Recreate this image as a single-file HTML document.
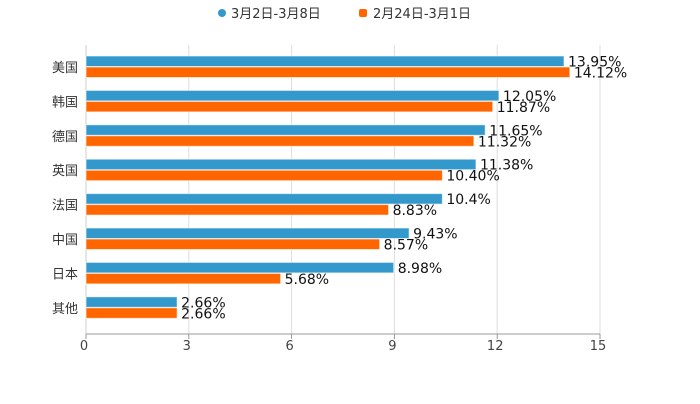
<!DOCTYPE html>
<html><head><meta charset="utf-8"><style>
body{margin:0;background:#fff;font-family:"DejaVu Sans","Noto Sans CJK SC",sans-serif}
</style></head><body>
<svg id="c" width="700" height="400" xmlns="http://www.w3.org/2000/svg" font-family="DejaVu Sans, Noto Sans CJK SC, sans-serif"></svg>
<script>
const categories=["美国","韩国","德国","英国","法国","中国","日本","其他"];
const seriesA=[13.95,12.05,11.65,11.38,10.4,9.43,8.98,2.66];
const seriesB=[14.12,11.87,11.32,10.40,8.83,8.57,5.68,2.66];
const labelsA=["13.95%","12.05%","11.65%","11.38%","10.4%","9.43%","8.98%","2.66%"];
const labelsB=["14.12%","11.87%","11.32%","10.40%","8.83%","8.57%","5.68%","2.66%"];
const ticks=[0,3,6,9,12,15];
const seriesNames=["3月2日-3月8日","2月24日-3月1日"];
const colors=["#3399cc","#ff6600"];
const svg=document.getElementById('c');
const NS='http://www.w3.org/2000/svg';
const x0=86,x1=600,yTop=45,yBottom=334;
const xs=v=>x0+(v/15)*(x1-x0);
const firstBar=56,rowH=34.4;
function el(t,a,txt){const e=document.createElementNS(NS,t);for(const k in a)e.setAttribute(k,a[k]);if(txt!==undefined)e.textContent=txt;svg.appendChild(e);return e;}
ticks.forEach(t=>{
 const g=el('line',{x1:xs(t),x2:xs(t),y1:yTop,y2:yBottom,stroke:'#ddd','stroke-width':1});
 
 
 const tk=el('line',{x1:xs(t),x2:xs(t),y1:yBottom,y2:yBottom+5,stroke:'#999'});
 
 
 const l=el('text',{x:xs(t)-2,y:yBottom+16,'font-size':13,fill:'#444','text-anchor':'middle'},String(t));
 
 
});
const ax=el('line',{x1:x0,x2:x1,y1:yBottom,y2:yBottom,stroke:'#999'});


const ay=el('line',{x1:x0,x2:x0,y1:yTop,y2:yBottom,stroke:'#ccc'});


categories.forEach((c,i)=>{
 const by=firstBar+rowH*i;
 const t=el('text',{x:78,y:by+16,'font-size':13,fill:'#333','text-anchor':'end'},c);
 
 
 [[seriesA,labelsA,0],[seriesB,labelsB,11]].forEach((s,j)=>{
  const y=by+s[2];
  const r=el('rect',{x:x0,y:y,width:xs(s[0][i])-x0,height:10.5,fill:colors[j],stroke:'#fff','stroke-opacity':0.6,'stroke-width':1});
  
  
  const lt=el('text',{x:xs(s[0][i])+4,y:y+10.5,'font-size':14,fill:'#111'},s[1][i]);
  
  
 });
});
[[222,231],[363,373]].forEach((p,j)=>{
 const m=j?el('rect',{x:p[0]-4,y:9,width:8,height:8,rx:2,fill:colors[j]}):el('circle',{cx:p[0],cy:13,r:4,fill:colors[j]});
 
 
 const t=el('text',{x:p[1],y:18,'font-size':13,fill:'#333'},seriesNames[j]);
 
 
});
</script>
</body></html>
